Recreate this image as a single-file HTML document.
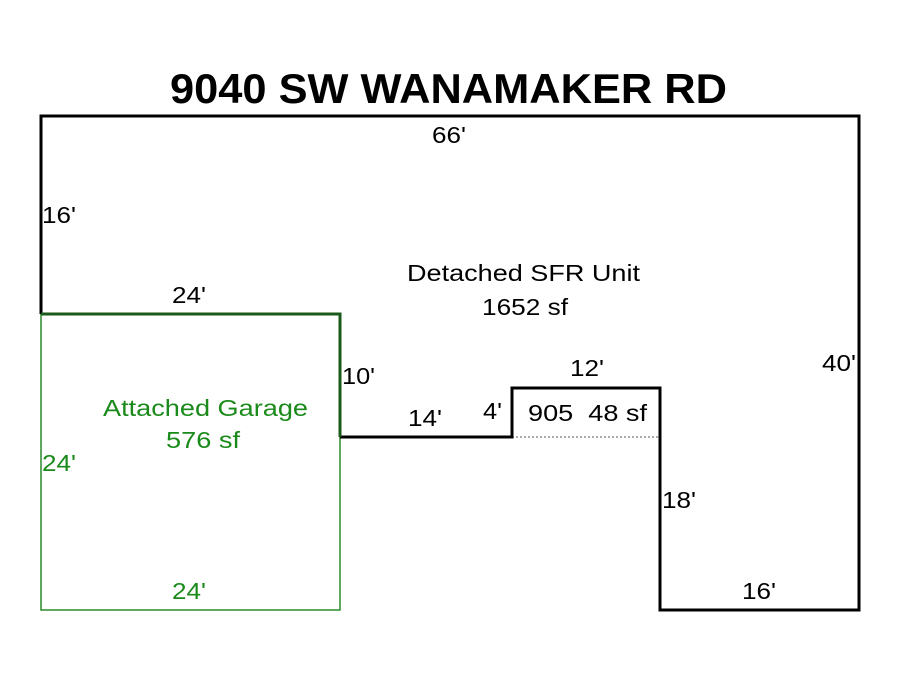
<!DOCTYPE html>
<html><head><style>body{margin:0;background:#fff}svg{display:block}</style></head><body>
<svg width="900" height="675" xmlns="http://www.w3.org/2000/svg" font-family="Liberation Sans, Arial, sans-serif">
<rect width="900" height="675" fill="#fff"/>
<text x="170" y="103" font-size="42" font-weight="bold" textLength="557" lengthAdjust="spacingAndGlyphs" fill="#000">9040 SW WANAMAKER RD</text>
<rect x="41" y="314" width="299" height="296" fill="none" stroke="#2a8a2a" stroke-width="1.5"/>
<line x1="512" y1="437" x2="660" y2="437" stroke="#555" stroke-width="1" stroke-dasharray="2,2"/>
<polyline points="41,314 41,116 859,116 859,610 660,610 660,388 512,388 512,437 340,437" fill="none" stroke="#000" stroke-width="3"/>
<polyline points="41,314 340,314 340,437" fill="none" stroke="#1a5a1a" stroke-width="3"/>
<g font-size="23" fill="#000" lengthAdjust="spacingAndGlyphs">
<text x="432" y="143" textLength="34" lengthAdjust="spacingAndGlyphs">66'</text>
<text x="42" y="223" textLength="34" lengthAdjust="spacingAndGlyphs">16'</text>
<text x="172" y="303" textLength="34" lengthAdjust="spacingAndGlyphs">24'</text>
<text x="407" y="281" textLength="233" lengthAdjust="spacingAndGlyphs">Detached SFR Unit</text>
<text x="482" y="315" textLength="86" lengthAdjust="spacingAndGlyphs">1652 sf</text>
<text x="342" y="384" textLength="33" lengthAdjust="spacingAndGlyphs">10'</text>
<text x="408" y="426" textLength="34" lengthAdjust="spacingAndGlyphs">14'</text>
<text x="483" y="419" textLength="19" lengthAdjust="spacingAndGlyphs">4'</text>
<text x="570" y="376" textLength="34" lengthAdjust="spacingAndGlyphs">12'</text>
<text x="528" y="421" textLength="119" lengthAdjust="spacingAndGlyphs" xml:space="preserve">905  48 sf</text>
<text x="822" y="371" textLength="34" lengthAdjust="spacingAndGlyphs">40'</text>
<text x="662" y="508" textLength="34" lengthAdjust="spacingAndGlyphs">18'</text>
<text x="742" y="599" textLength="34" lengthAdjust="spacingAndGlyphs">16'</text>
</g>
<g font-size="23" fill="#1a8a1a">
<text x="103" y="416" textLength="205" lengthAdjust="spacingAndGlyphs">Attached Garage</text>
<text x="166" y="448" textLength="74" lengthAdjust="spacingAndGlyphs">576 sf</text>
<text x="42" y="471" textLength="34" lengthAdjust="spacingAndGlyphs">24'</text>
<text x="172" y="599" textLength="34" lengthAdjust="spacingAndGlyphs">24'</text>
</g>
</svg>
</body></html>
